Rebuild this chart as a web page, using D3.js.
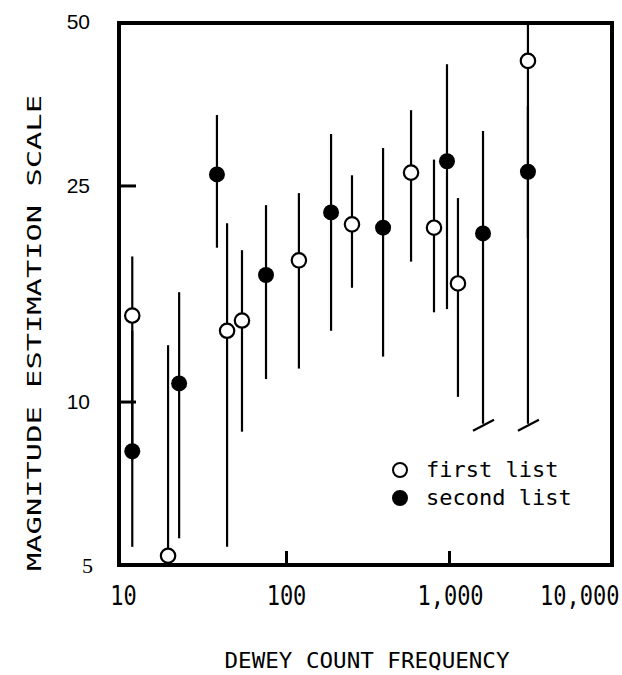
<!DOCTYPE html>
<html><head><meta charset="utf-8">
<script src="https://cdn.jsdelivr.net/npm/d3@7"></script>
<style>
html,body{margin:0;padding:0;background:#fff;}
svg{display:block;}
</style></head>
<body>
<script>
// ---- data ----
const firstX  = [11.4, 18.9, 43.5, 53.7, 120, 254, 585, 809, 1135, 3050];
const firstY  = [14.4, 5.2, 13.5, 14.1, 18.2, 21.2, 26.4, 20.9, 16.5, 42.4];
const firstLo = [7.8, 5.2, 5.4, 8.8, 11.5, 16.2, 18.1, 14.6, 10.2, 20];
const firstHi = [18.5, 12.7, 21.3, 19.0, 24.2, 26.1, 34.4, 27.9, 23.7, 50];

const secondX  = [11.4, 22.1, 37.7, 75.4, 189, 394, 972, 1617, 3050];
const secondY  = [8.1, 10.8, 26.2, 17.1, 22.3, 20.9, 27.7, 20.4, 26.5];
const secondLo = [5.4, 5.6, 19.2, 11.0, 13.5, 12.1, 14.8, 9.1, 9.1];
const secondHi = [13.5, 15.9, 33.7, 23.0, 31.1, 29.3, 41.8, 31.5, 35];
const brokenLow = [1617, 3050];   // lower bars truncated (break mark)

const xTicks = [10, 100, 1000, 10000];
const xTickLabels = ["10", "100", "1,000", "10,000"];
const yTicks = [5, 10, 25, 50];
const yTickLabels = ["5", "10", "25", "50"];
const legendLabels = ["first list", "second list"];

// ---- layout ----
const W = 622, H = 675;
const svg = d3.select("body").append("svg").attr("width", W).attr("height", H);

const x = d3.scaleLog().domain([10, 10000]).range([123, 612]);
const y = d3.scaleLog().domain([5, 50]).range([565, 22]);

// frame
const fl = 119, fr = 612, ft = 23, fb = 565;
svg.append("path")
  .attr("d", `M${fl},${ft}H${fr}V${fb}H${fl}Z`)
  .attr("fill", "none").attr("stroke", "#000").attr("stroke-width", 4);

// y axis
const yAxis = d3.axisLeft(y).tickValues(yTicks).tickSize(-17).tickPadding(29)
  .tickFormat((d, i) => yTickLabels[i]);
const gy = svg.append("g").attr("transform", `translate(${fl},0)`).call(yAxis);
gy.select(".domain").remove();
gy.selectAll(".tick line").attr("stroke", "#000").attr("stroke-width", 3)
  .attr("opacity", d => (d === 5 || d === 50) ? 0 : 1);
gy.selectAll(".tick text")
  .attr("font-family", d => d === 5 ? "'Liberation Serif', serif" : "'Liberation Sans', Arial, sans-serif")
  .attr("font-size", d => d === 5 ? 22 : 21).attr("fill", "#000")
  .attr("dx", d => d === 5 ? 3 : 0);

// x axis
const sy = 1.23;
const xAxis = d3.axisBottom(x).tickValues(xTicks).tickSize(-14).tickPadding(17)
  .tickFormat((d, i) => xTickLabels[i]);
const gx = svg.append("g").attr("transform", `translate(0,${fb})`).call(xAxis);
gx.select(".domain").remove();
gx.selectAll(".tick line").attr("stroke", "#000").attr("stroke-width", 3)
  .attr("opacity", d => (d === 10 || d === 10000) ? 0 : 1);
gx.selectAll(".tick text")
  .attr("font-family", "'DejaVu Sans Mono', monospace")
  .attr("font-size", 22).attr("fill", "#000")
  .attr("transform", `scale(1,${sy})`)
  .attr("dx", d => d === 1000 ? 1 : 0)
  .each(function(d) {
    if (d === 10000) d3.select(this).attr("text-anchor", "end").attr("x", 7);
  });

// axis titles
svg.append("text")
  .attr("transform", `translate(41,333) rotate(-90)`)
  .attr("text-anchor", "middle")
  .attr("font-family", "'DejaVu Sans Mono', monospace")
  .attr("font-size", 20)
  .attr("textLength", 476).attr("lengthAdjust", "spacingAndGlyphs")
  .text("MAGNITUDE ESTIMATION SCALE");

svg.append("text")
  .attr("x", 367).attr("y", 668)
  .attr("text-anchor", "middle")
  .attr("font-family", "'DejaVu Sans Mono', monospace")
  .attr("font-size", 22)
  .attr("textLength", 285).attr("lengthAdjust", "spacingAndGlyphs")
  .text("DEWEY COUNT FREQUENCY");

// error bars
const bars = svg.append("g").attr("stroke", "#000").attr("stroke-width", 2.2);
firstX.forEach((v, i) => {
  bars.append("line").attr("x1", x(v)).attr("x2", x(v))
    .attr("y1", y(firstHi[i])).attr("y2", y(firstLo[i]));
});
secondX.forEach((v, i) => {
  bars.append("line").attr("x1", x(v)).attr("x2", x(v))
    .attr("y1", y(secondHi[i])).attr("y2", y(secondLo[i]));
  if (brokenLow.includes(v)) {
    const bx = x(v), by = y(secondLo[i]);
    bars.append("line").attr("x1", bx - 10).attr("y1", by + 7)
      .attr("x2", bx + 11).attr("y2", by - 4);
  }
});

// markers
const R = 8;
svg.append("g").selectAll("circle").data(secondX).join("circle")
  .attr("cx", d => x(d)).attr("cy", (d, i) => y(secondY[i])).attr("r", R)
  .attr("fill", "#000");
svg.append("g").selectAll("circle").data(firstX).join("circle")
  .attr("cx", d => x(d)).attr("cy", (d, i) => y(firstY[i])).attr("r", R - 0.8)
  .attr("fill", "#fff").attr("stroke", "#000").attr("stroke-width", 2.2);

// legend
const lg = svg.append("g");
legendLabels.forEach((t, i) => {
  const cy = 470 + i * 28;
  lg.append("circle").attr("cx", 400).attr("cy", cy).attr("r", 7)
    .attr("fill", i === 0 ? "#fff" : "#000").attr("stroke", "#000").attr("stroke-width", 2);
  lg.append("text").attr("x", 426).attr("y", cy + 7)
    .attr("font-family", "'DejaVu Sans Mono', monospace")
    .attr("font-size", 22).attr("fill", "#000")
    .text(t);
});
</script>
</body></html>
